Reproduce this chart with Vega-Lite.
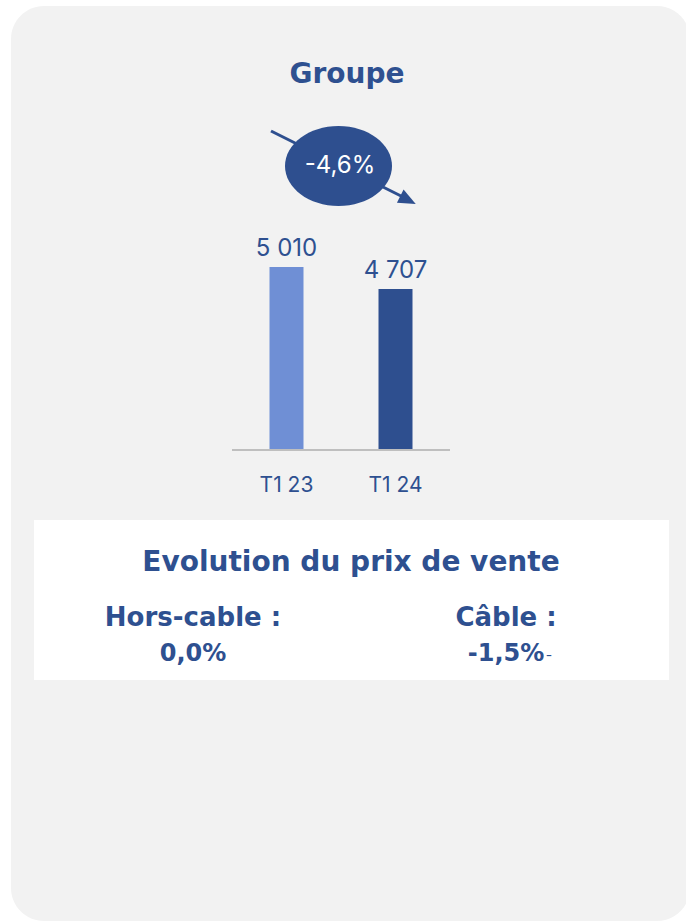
{
  "$schema": "https://vega.github.io/schema/vega-lite/v6.json",
  "width": 686,
  "height": 922,
  "autosize": "none",
  "padding": 0,
  "background": "#ffffff",
  "config": {
    "view": {"stroke": null},
    "font": "Inter",
    "locale": {"number": {"decimal": ",", "thousands": " ", "grouping": [3], "currency": ["", " €"]}}
  },
  "data": {"values": [
    {"periode": "T1 23", "valeur": 5010},
    {"periode": "T1 24", "valeur": 4707}
  ]},
  "layer": [
    {
      "data": {"values": [{"element": "carte"}]},
      "mark": {"type": "rect", "x": 11, "x2": 690, "y": 6, "y2": 921, "cornerRadius": 33, "fill": "#f2f2f2"},
      "encoding": {}
    },
    {
      "data": {"values": [{"element": "encadre"}]},
      "mark": {"type": "rect", "x": 34, "x2": 669, "y": 520, "y2": 680, "fill": "#ffffff"},
      "encoding": {}
    },
    {
      "data": {"values": [{"titre": "Groupe"}]},
      "mark": {"type": "text", "x": 347, "y": 75, "baseline": "middle", "align": "center", "font": "DejaVu Sans", "fontSize": 28, "fontWeight": 700, "color": "#2E5090"},
      "encoding": {"text": {"field": "titre"}}
    },
    {
      "data": {"values": [{"element": "fleche"}]},
      "mark": {"type": "rule", "stroke": "#2E4F8F", "strokeWidth": 3},
      "encoding": {
        "x": {"value": 271}, "y": {"value": 131},
        "x2": {"value": 405}, "y2": {"value": 198}
      }
    },
    {
      "data": {"values": [{"element": "pointe"}]},
      "mark": {"type": "point", "filled": true, "fill": "#2E4F8F", "opacity": 1, "strokeWidth": 0},
      "encoding": {
        "x": {"value": 408}, "y": {"value": 200},
        "shape": {"value": "M 1 0 L -1 -0.85 L -1 0.85 Z"},
        "angle": {"value": 26.7},
        "size": {"value": 300}
      }
    },
    {
      "data": {"values": [{"element": "bulle"}]},
      "mark": {"type": "point", "filled": true, "fill": "#2E4F8F", "opacity": 1, "strokeWidth": 0},
      "encoding": {
        "x": {"value": 338.5}, "y": {"value": 166},
        "shape": {"value": "M -1 0 A 1 0.748 0 1 0 1 0 A 1 0.748 0 1 0 -1 0 Z"},
        "size": {"value": 11449}
      }
    },
    {
      "data": {"values": [{"variation": "-4,6%"}]},
      "mark": {"type": "text", "x": 340, "y": 166, "baseline": "middle", "align": "center", "fontSize": 24, "fontWeight": 400, "color": "#ffffff"},
      "encoding": {"text": {"field": "variation"}}
    },
    {
      "data": {"values": [{"element": "base"}]},
      "mark": {"type": "rule", "stroke": "#bfbfbf", "strokeWidth": 2},
      "encoding": {
        "x": {"value": 232}, "x2": {"value": 450},
        "y": {"value": 450}
      }
    },
    {
      "mark": {"type": "bar", "width": 34},
      "encoding": {
        "x": {"field": "periode", "type": "nominal", "scale": {"range": [232, 450], "paddingInner": 0, "paddingOuter": 0}, "axis": null},
        "y": {"field": "valeur", "type": "quantitative", "scale": {"domain": [2500, 5010], "range": [449, 267], "zero": false, "nice": false}, "axis": null},
        "y2": {"datum": 2500},
        "color": {"field": "periode", "type": "nominal", "scale": {"range": ["#6F8FD5", "#2E4F8F"]}, "legend": null}
      }
    },
    {
      "mark": {"type": "text", "dy": -18, "baseline": "middle", "align": "center", "fontSize": 24, "fontWeight": 400, "color": "#2E5090"},
      "encoding": {
        "x": {"field": "periode", "type": "nominal"},
        "y": {"field": "valeur", "type": "quantitative"},
        "text": {"field": "valeur", "type": "quantitative", "format": ",d"}
      }
    },
    {
      "mark": {"type": "text", "y": 486, "baseline": "middle", "align": "center", "fontSize": 21, "fontWeight": 400, "color": "#2E5090"},
      "encoding": {
        "x": {"field": "periode", "type": "nominal"},
        "text": {"field": "periode"}
      }
    },
    {
      "data": {"values": [
        {"texte": "Evolution du prix de vente"}
      ]},
      "mark": {"type": "text", "x": 351, "y": 563, "baseline": "middle", "align": "center", "font": "DejaVu Sans", "fontSize": 28, "fontWeight": 700, "color": "#2E5090"},
      "encoding": {"text": {"field": "texte"}}
    },
    {
      "data": {"values": [{"texte": "Hors-cable :"}]},
      "mark": {"type": "text", "x": 193, "y": 618, "baseline": "middle", "align": "center", "font": "DejaVu Sans", "fontSize": 26, "fontWeight": 700, "color": "#2E5090"},
      "encoding": {"text": {"field": "texte"}}
    },
    {
      "data": {"values": [{"texte": "0,0%"}]},
      "mark": {"type": "text", "x": 193, "y": 654, "baseline": "middle", "align": "center", "font": "DejaVu Sans", "fontSize": 24, "fontWeight": 700, "color": "#2E5090"},
      "encoding": {"text": {"field": "texte"}}
    },
    {
      "data": {"values": [{"texte": "Câble :"}]},
      "mark": {"type": "text", "x": 506, "y": 618, "baseline": "middle", "align": "center", "font": "DejaVu Sans", "fontSize": 26, "fontWeight": 700, "color": "#2E5090"},
      "encoding": {"text": {"field": "texte"}}
    },
    {
      "data": {"values": [{"texte": "-1,5%"}]},
      "mark": {"type": "text", "x": 506, "y": 654, "baseline": "middle", "align": "center", "font": "DejaVu Sans", "fontSize": 24, "fontWeight": 700, "color": "#2E5090"},
      "encoding": {"text": {"field": "texte"}}
    },
    {
      "data": {"values": [{"texte": "-"}]},
      "mark": {"type": "text", "x": 549, "y": 656, "baseline": "middle", "align": "center", "fontSize": 14, "fontWeight": 400, "color": "#2E5090"},
      "encoding": {"text": {"field": "texte"}}
    }
  ]
}
